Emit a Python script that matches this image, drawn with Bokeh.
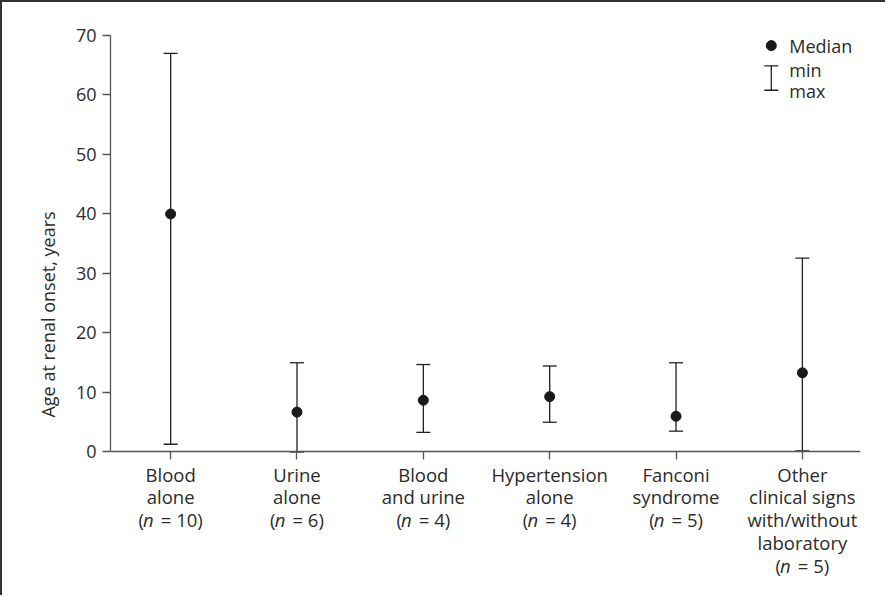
from bokeh.plotting import figure
from bokeh.models import (FixedTicker, Whisker, TeeHead, ColumnDataSource, Label, Range1d)
from bokeh.embed import file_html
from bokeh.resources import INLINE

# ---- data ----
categories = ["Blood alone", "Urine alone", "Blood and urine", "Hypertension alone",
              "Fanconi syndrome", "Other clinical signs with/without laboratory"]
label_lines = [["Blood", "alone"], ["Urine", "alone"], ["Blood", "and urine"],
               ["Hypertension", "alone"], ["Fanconi", "syndrome"],
               ["Other", "clinical signs", "with/without", "laboratory"]]
n_values = [10, 6, 4, 4, 5, 5]
medians = [40.0, 6.7, 8.7, 9.3, 6.0, 13.3]
mins = [1.3, 0.0, 3.3, 5.0, 3.5, 0.2]
maxs = [67.0, 15.0, 14.7, 14.45, 15.0, 32.6]
y_ticks = [0, 10, 20, 30, 40, 50, 60, 70]

FONT = "Open Sans"
TXT = "#2b2b2b"
LINE = "#222222"
AX = "#555555"
FS = 18
CFS = 18.5

W, H = 885, 595
BORDER = 2
ML, MR, MT, MB = 108, 27, 33, 4
AXIS_H = 415                      # pixel height of the 0..70 axis
frame_total = H - BORDER - MT - MB
px_per_y = 70.0 / AXIS_H
y_min = -(frame_total - AXIS_H) * px_per_y

xs = list(range(len(categories)))
p = figure(width=W, height=H, output_backend="svg", toolbar_location=None,
           x_range=Range1d(-0.476, 5.46), y_range=Range1d(y_min, 70),
           min_border_left=ML, min_border_right=MR, min_border_top=MT,
           min_border_bottom=MB,
           styles={"border-left": "2px solid #333", "border-top": "2px solid #333"})
p.outline_line_color = None
p.grid.visible = False
p.background_fill_color = "white"

# axes
p.yaxis.bounds = (0, 70)
p.yaxis.ticker = FixedTicker(ticks=y_ticks)
p.yaxis.minor_tick_line_color = None
p.yaxis.major_tick_out = 8
p.yaxis.major_tick_in = 0
p.yaxis.axis_line_color = AX
p.yaxis.major_tick_line_color = AX
p.yaxis.axis_line_width = 1.3
p.yaxis.major_tick_line_width = 1.3
p.yaxis.major_label_text_font = FONT
p.yaxis.major_label_text_font_size = f"{FS}px"
p.yaxis.major_label_text_color = TXT
p.yaxis.major_label_standoff = 6
p.yaxis.axis_label = "Age at renal onset, years"
p.yaxis.axis_label_text_font = FONT
p.yaxis.axis_label_text_font_size = "18px"
p.yaxis.axis_label_text_font_style = "normal"
p.yaxis.axis_label_text_color = TXT
p.yaxis.axis_label_standoff = 13

p.xaxis.fixed_location = 0
p.xaxis.ticker = FixedTicker(ticks=xs)
p.xaxis.minor_tick_line_color = None
p.xaxis.major_tick_out = 8
p.xaxis.major_tick_in = 0
p.xaxis.axis_line_color = AX
p.xaxis.major_tick_line_color = AX
p.xaxis.axis_line_width = 1.3
p.xaxis.major_tick_line_width = 1.3
p.xaxis.major_label_overrides = {i: "" for i in xs}

# whiskers and medians
src = ColumnDataSource(dict(x=xs, med=medians, lo=mins, hi=maxs))
wh = Whisker(source=src, base="x", lower="lo", upper="hi", dimension="height",
             line_color=LINE, line_width=1.3,
             lower_head=TeeHead(size=14, line_color=LINE, line_width=1.3),
             upper_head=TeeHead(size=14, line_color=LINE, line_width=1.3))
p.add_layout(wh)
p.scatter("x", "med", source=src, size=10, color="#1a1a1a")

# category labels (drawn as text below axis)
def y_at(offset_px):
    return -offset_px * px_per_y

em = {"(": 0.25, ")": 0.295, " ": 0.26, "=": 0.572, "n": 0.58}
def width(s):
    return sum(em.get(c, 0.572) for c in s) * CFS

GAP = 7          # space between italic n and '='
LINE_H = 22.7
first_off = 22
for i, lines in enumerate(label_lines):
    for j, t in enumerate(lines):
        p.add_layout(Label(x=i, y=y_at(first_off + j * LINE_H), text=t,
                           text_font=FONT, text_font_size=f"{CFS}px", text_color=TXT,
                           text_align="center", text_baseline="middle"))
    k = len(lines)
    yy = y_at(first_off + k * LINE_H)
    rest = f"= {n_values[i]})"
    total = width("(") + width("n") + GAP + width(rest)
    x0 = -total / 2
    p.add_layout(Label(x=i, y=yy, x_offset=x0, text="(", text_font=FONT,
                       text_font_size=f"{CFS}px", text_color=TXT,
                       text_align="left", text_baseline="middle"))
    p.add_layout(Label(x=i, y=yy, x_offset=x0 + width("("), text="n", text_font=FONT,
                       text_font_size=f"{CFS}px", text_color=TXT, text_font_style="italic",
                       text_align="left", text_baseline="middle"))
    p.add_layout(Label(x=i, y=yy, x_offset=x0 + width("(") + width("n") + GAP, text=rest,
                       text_font=FONT, text_font_size=f"{CFS}px", text_color=TXT,
                       text_align="left", text_baseline="middle"))

# legend (manual)
leg_x = 4.754
leg_src = ColumnDataSource(dict(x=[leg_x], med=[68.3], lo=[60.8], hi=[64.9]))
p.scatter("x", "med", source=leg_src, size=10, color="#1a1a1a")
p.add_layout(Whisker(source=leg_src, base="x", lower="lo", upper="hi", dimension="height",
                     line_color=LINE, line_width=1.3,
                     lower_head=TeeHead(size=14, line_color=LINE, line_width=1.3),
                     upper_head=TeeHead(size=14, line_color=LINE, line_width=1.3)))
for t, yv in [("Median", 68.3), ("min", 64.25), ("max", 60.7)]:
    p.add_layout(Label(x=leg_x, y=yv, x_offset=18, text=t, text_font=FONT,
                       text_font_size=f"{FS}px", text_color=TXT,
                       text_align="left", text_baseline="middle"))

open("out.html", "w").write(file_html(p, INLINE))
